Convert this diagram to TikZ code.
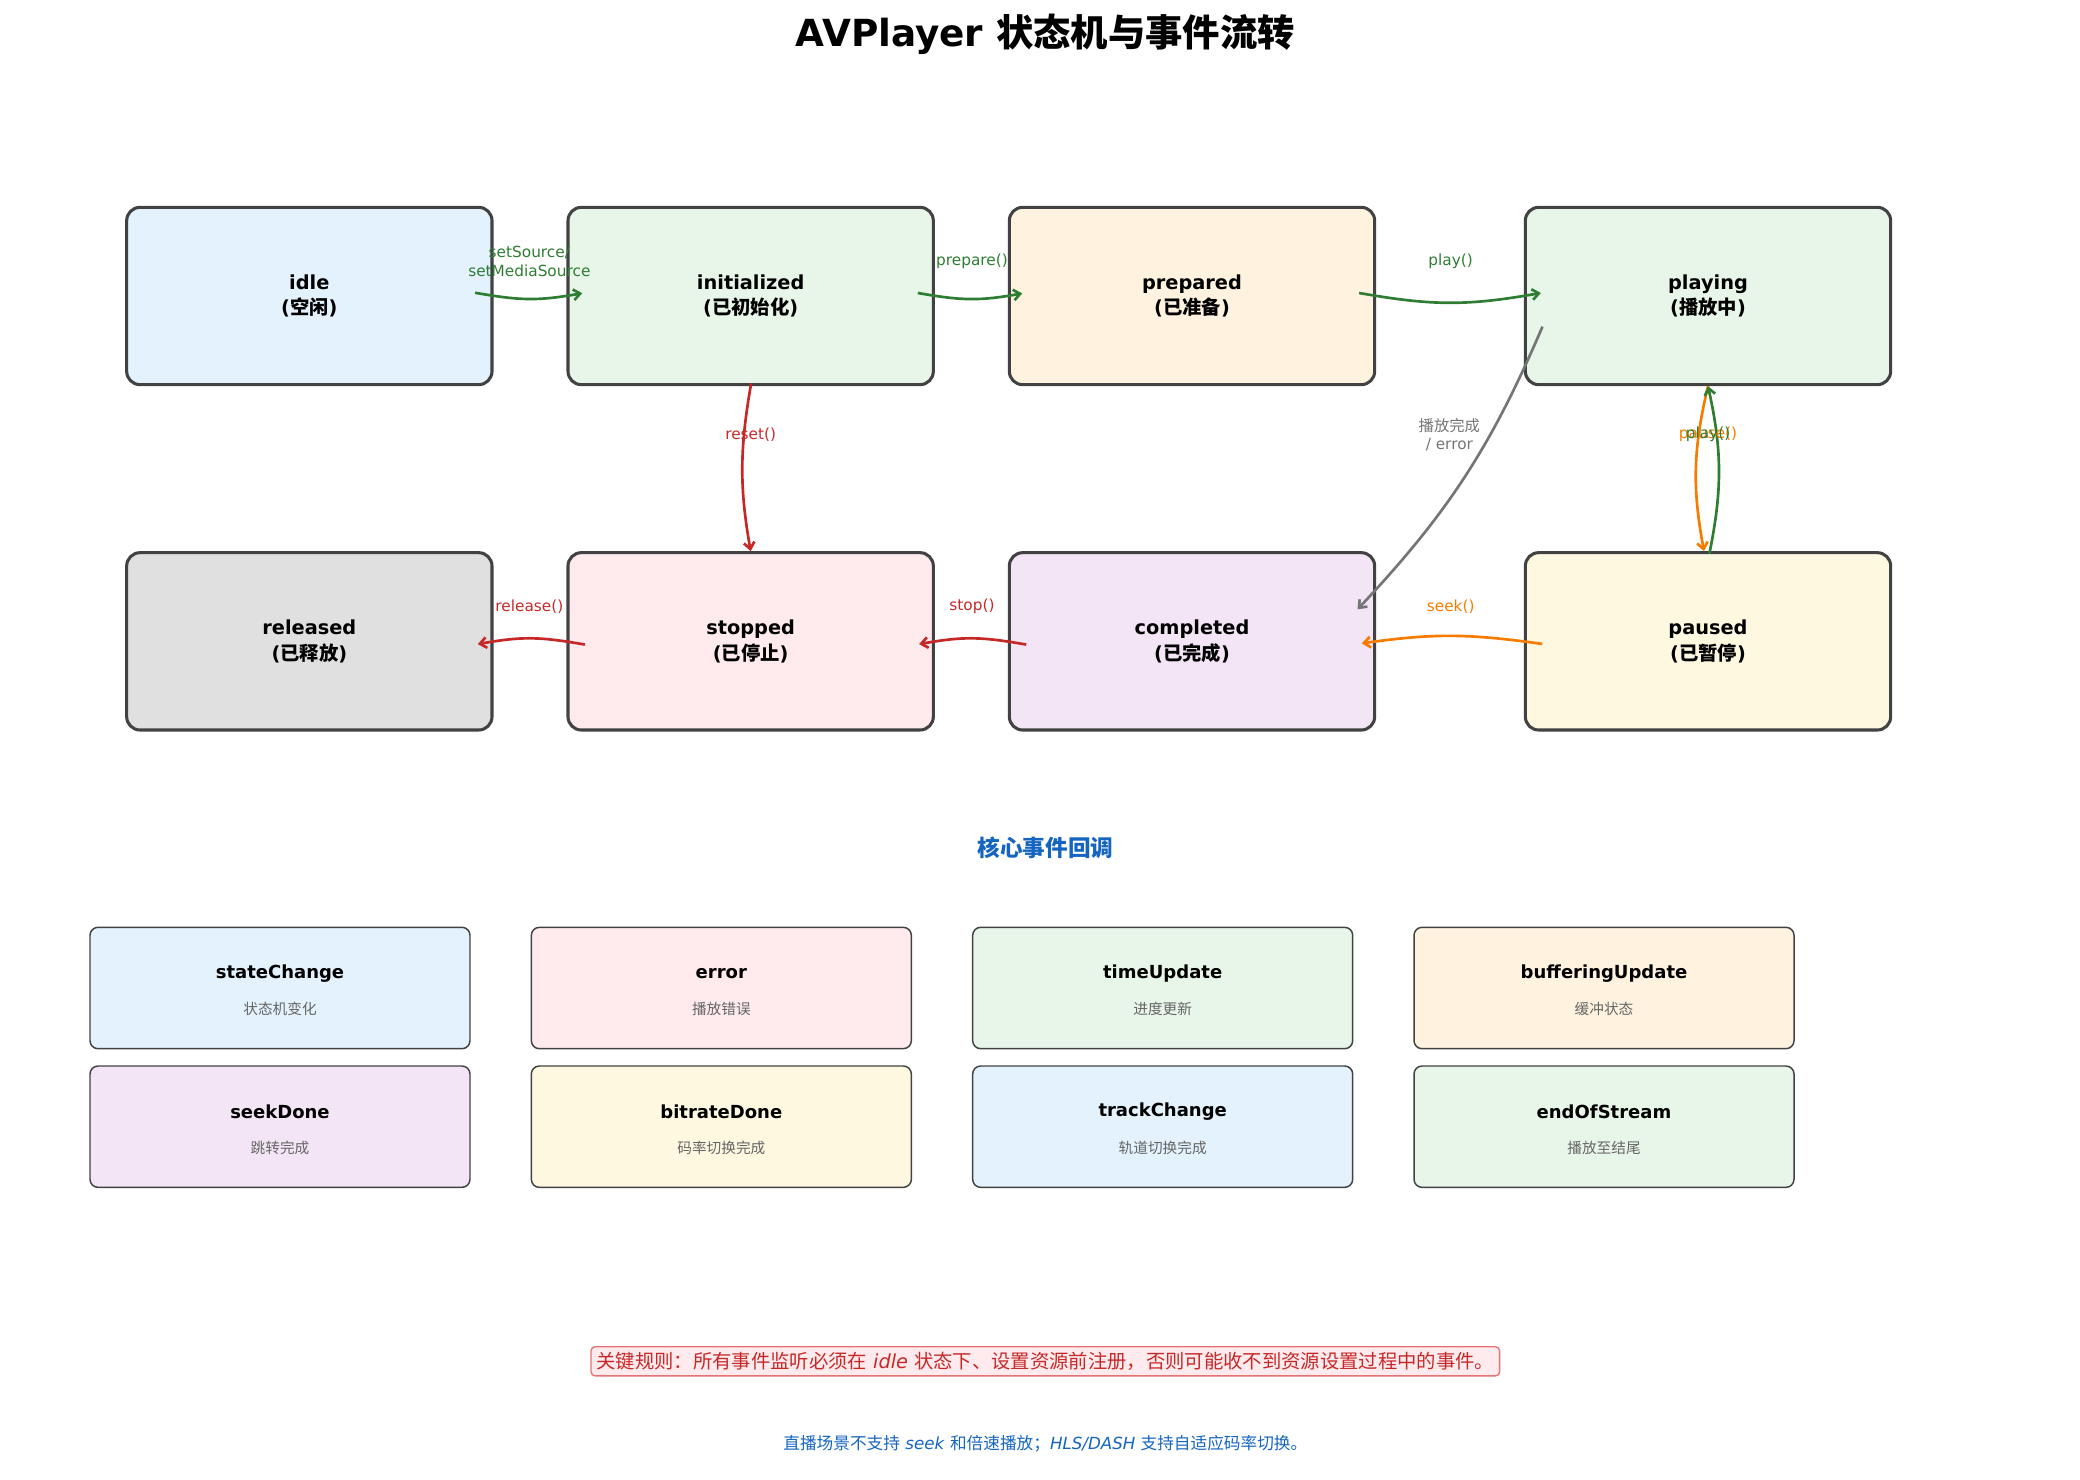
\documentclass[tikz,border=0pt]{standalone}
\usepackage{fontspec}
\setmainfont{DejaVu Sans}
\newfontfamily\cjk{Noto Sans CJK SC}
\usetikzlibrary{arrows.meta}
\definecolor{bd}{HTML}{424242}
\definecolor{gA}{HTML}{2E7D32}
\definecolor{rA}{HTML}{C62828}
\definecolor{oA}{HTML}{F57C00}
\definecolor{yA}{HTML}{757575}
\definecolor{bl}{HTML}{1565C0}
\definecolor{cB}{HTML}{E3F2FD}
\definecolor{cG}{HTML}{E8F5E9}
\definecolor{cO}{HTML}{FFF3E0}
\definecolor{cK}{HTML}{E0E0E0}
\definecolor{cR}{HTML}{FFEBEE}
\definecolor{cP}{HTML}{F3E5F5}
\definecolor{cY}{HTML}{FFF8E1}
\definecolor{rb}{HTML}{E57373}
\begin{document}
\begin{tikzpicture}[x=1pt,y=1pt,
 st/.style={draw=bd,line width=2.3pt,rounded corners=10pt,minimum width=274pt,minimum height=133pt,align=center,font=\bfseries\fontsize{14.5}{19}\selectfont},
 ev/.style={draw=bd,line width=1.1pt,rounded corners=6pt,minimum width=285pt,minimum height=91pt},
 ar/.style={line width=2pt,-{Straight Barb[length=5pt,width=8pt]}},
 lb/.style={font=\fontsize{11.5}{14}\selectfont,align=center},
 et/.style={font=\bfseries\fontsize{13.5}{15}\selectfont},
 es/.style={font=\cjk\fontsize{11}{13}\selectfont,text=black!60}]
\useasboundingbox (0,0) rectangle (1560,-1110);
\node at (784,-26) {\bfseries\fontsize{28}{32}\selectfont AVPlayer {\cjk 状态机与事件流转}};
\node[st,fill=cB] (idle) at (232,-222) {idle\\({\cjk 空闲})};
\node[st,fill=cG] (init) at (563,-222) {initialized\\({\cjk 已初始化})};
\node[st,fill=cO] (prep) at (894,-222) {prepared\\({\cjk 已准备})};
\node[st,fill=cG] (play) at (1281,-222) {playing\\({\cjk 播放中})};
\node[st,fill=cK] (rel) at (232,-481) {released\\({\cjk 已释放})};
\node[st,fill=cR] (stop) at (563,-481) {stopped\\({\cjk 已停止})};
\node[st,fill=cP] (comp) at (894,-481) {completed\\({\cjk 已完成})};
\node[st,fill=cY] (paus) at (1281,-481) {paused\\({\cjk 已暂停})};
\draw[ar,gA,shorten <=-14pt,shorten >=-12pt] (idle.east) to[bend right=10] (init.west);
\node[lb,text=gA] at (397,-196) {setSource/\\setMediaSource};
\draw[ar,gA,shorten <=-13pt,shorten >=-11pt] (init.east) to[bend right=10] (prep.west);
\node[lb,text=gA] at (729,-196) {prepare()};
\draw[ar,gA,shorten <=-13pt,shorten >=-13pt] (prep.east) to[bend right=10] (play.west);
\node[lb,text=gA] at (1088,-196) {play()};
\draw[ar,yA] ([xshift=14pt,yshift=-23pt]play.west) to[bend left=10] ([xshift=-14pt,yshift=24pt]comp.east);
\node[lb,text=yA] at (1087,-326) {{\cjk 播放完成}\\/ error};
\draw[ar,oA] (play.south) to[bend right=12] ([xshift=-3pt]paus.north);
\draw[ar,gA] ([xshift=1pt,yshift=-2pt]paus.north) to[bend right=12] (play.south);
\node[lb,text=oA] at (1281,-326) {pause()};
\node[lb,text=gA] at (1281,-326) {play()};
\draw[ar,oA,shorten <=-14pt,shorten >=-11pt] (paus.west) to[bend right=8] (comp.east);
\node[lb,text=oA] at (1088,-455) {seek()};
\draw[ar,rA,shorten <=-14pt,shorten >=-12pt] (comp.west) to[bend right=10] (stop.east);
\node[lb,text=rA] at (729,-455) {stop()};
\draw[ar,rA,shorten <=-14pt,shorten >=-12pt] (stop.west) to[bend right=10] (rel.east);
\node[lb,text=rA] at (397,-455) {release()};
\draw[ar,rA,shorten <=-2pt] (init.south) to[bend right=10] (stop.north);
\node[lb,text=rA] at (563,-326) {reset()};
\node[text=bl] at (784,-636) {\cjk\bfseries\fontsize{17}{20}\selectfont 核心事件回调};
\foreach \n/\x/\y/\c/\t/\s in {e1/210/-741/cB/stateChange/状态机变化, e2/541/-741/cR/error/播放错误, e3/872/-741/cG/timeUpdate/进度更新, e4/1203/-741/cO/bufferingUpdate/缓冲状态, e5/210/-845/cP/seekDone/跳转完成, e6/541/-845/cY/bitrateDone/码率切换完成, e7/872/-845/cB/trackChange/轨道切换完成, e8/1203/-845/cG/endOfStream/播放至结尾}{
 \node[ev,fill=\c] (\n) at (\x,\y) {};
 \node[et] (\n t) at (\x,\y+11) {\t};
 \node[es] (\n s) at (\x,\y-16) {\s};
}
\node[draw=rb,fill=cR,line width=1pt,rounded corners=3pt,text=rA,inner sep=4pt,font=\fontsize{14.5}{17}\selectfont] (rule) at (784,-1021) {{\cjk 关键规则：所有事件监听必须在} \textit{idle} {\cjk 状态下、设置资源前注册，否则可能收不到资源设置过程中的事件。}};
\node[text=bl,font=\fontsize{12.5}{15}\selectfont] (note) at (784,-1083) {{\cjk 直播场景不支持} \textit{seek} {\cjk 和倍速播放；}\textit{HLS/DASH} {\cjk 支持自适应码率切换。}};
\end{tikzpicture}
\end{document}
